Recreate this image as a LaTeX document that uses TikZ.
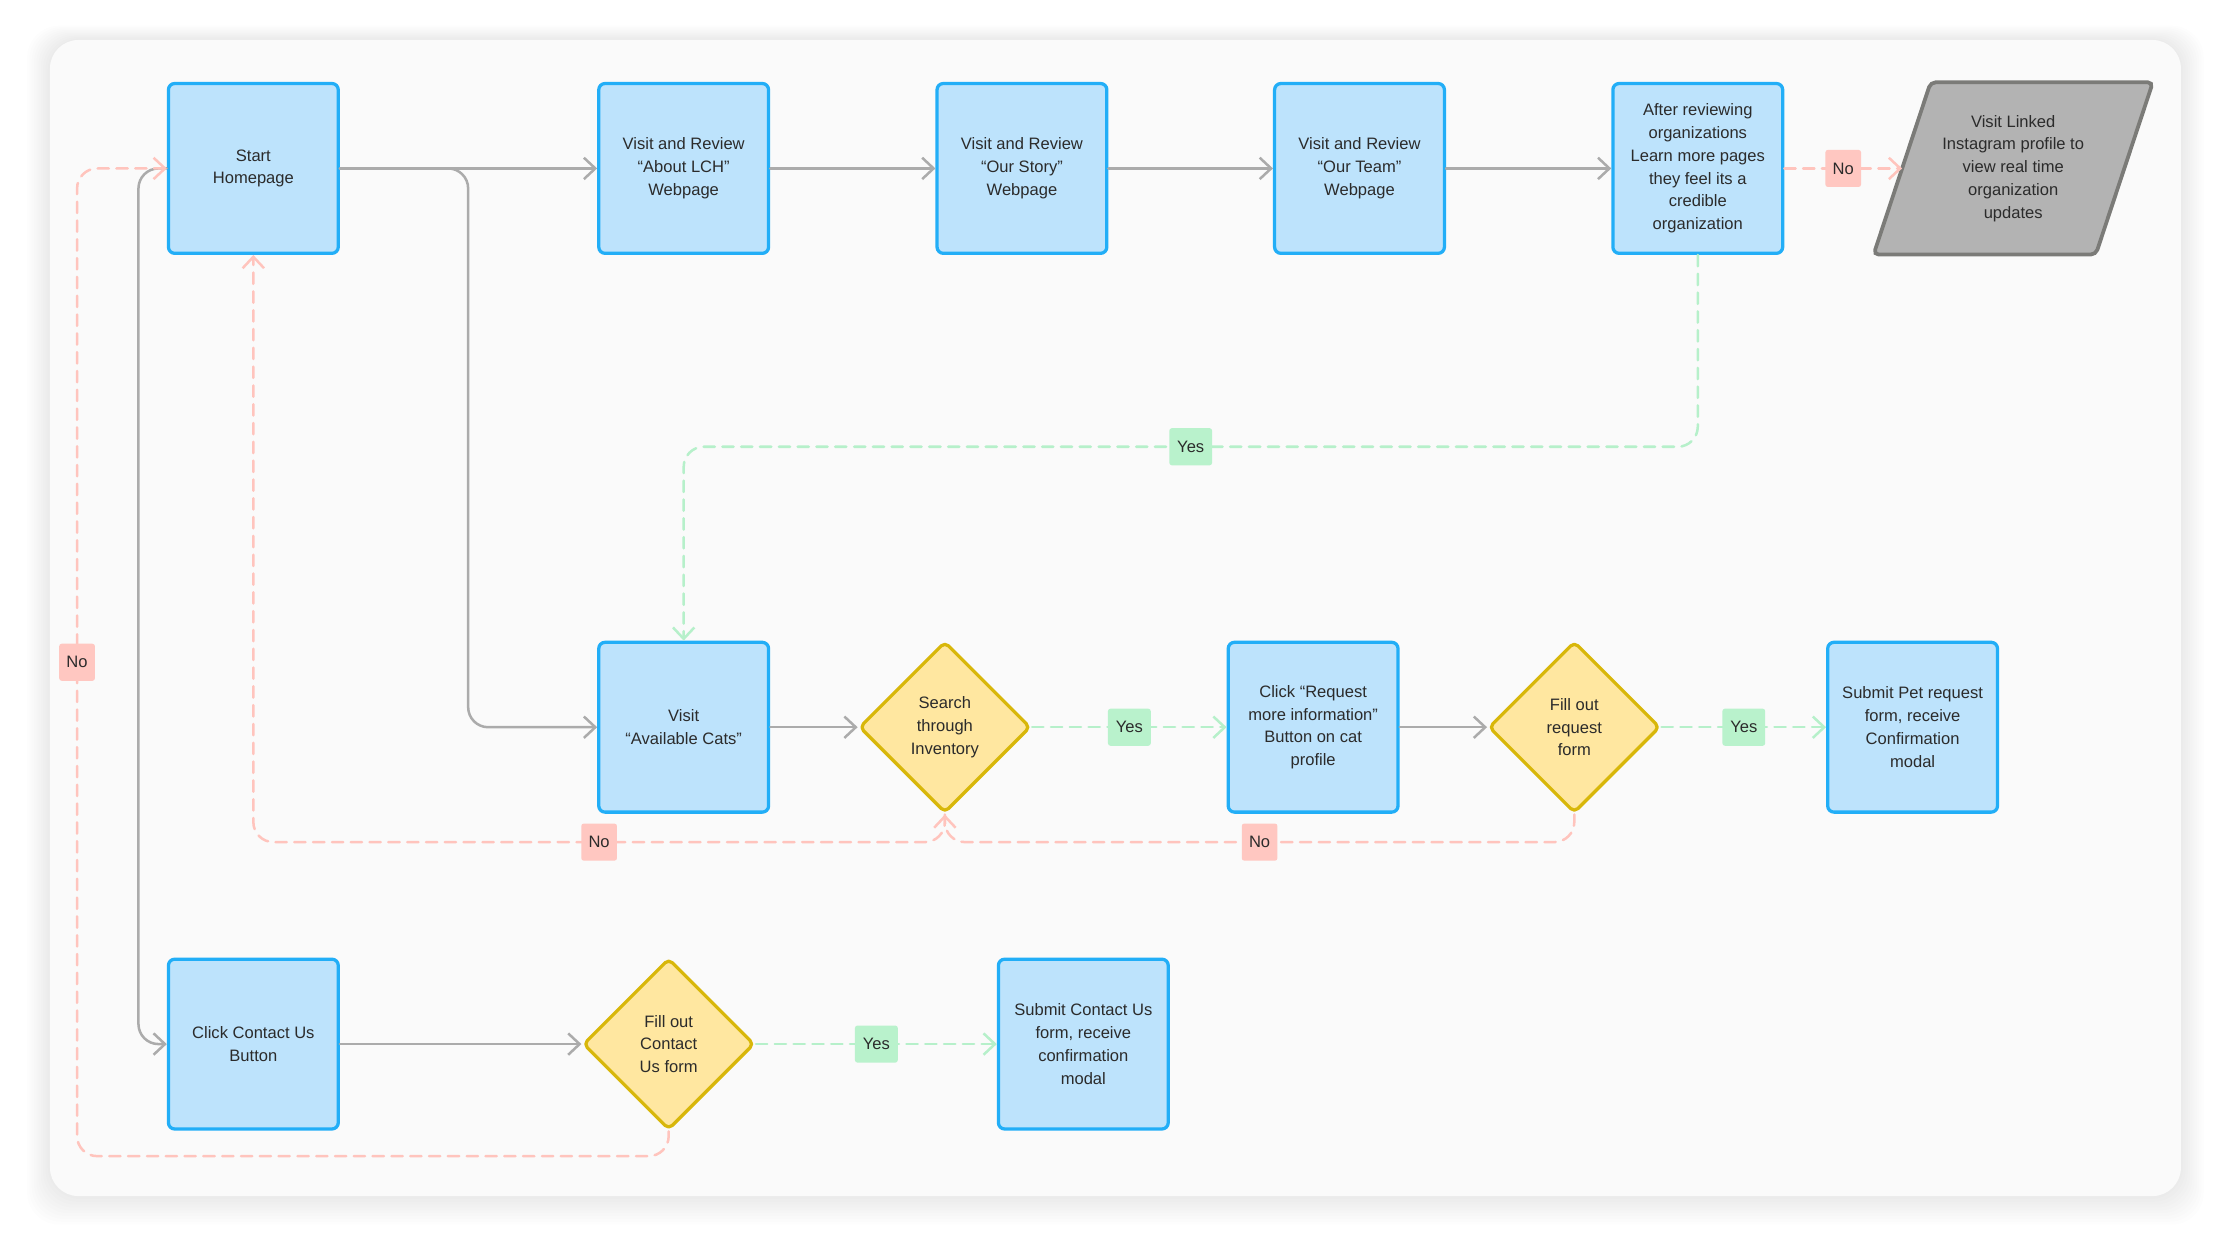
\documentclass[tikz,border=0pt]{standalone}
\usepackage{fontspec}
\setmainfont{Liberation Sans}
\usetikzlibrary{arrows.meta,shapes.geometric,backgrounds}
\definecolor{boxfill}{HTML}{BDE3FC}
\definecolor{boxline}{HTML}{22AEF7}
\definecolor{decfill}{HTML}{FFE7A0}
\definecolor{decline}{HTML}{D8B70A}
\definecolor{nofill}{HTML}{FFC7C1}
\definecolor{noink}{HTML}{FFC4BD}
\definecolor{yesfill}{HTML}{B9F2CC}
\definecolor{yesink}{HTML}{B6F0CA}
\definecolor{flow}{HTML}{ABABAB}
\definecolor{ink}{HTML}{2B2B2B}
\definecolor{card}{HTML}{FAFAFA}
\definecolor{instafill}{HTML}{B3B3B3}
\definecolor{instaline}{HTML}{7B7B78}
\begin{document}
\begin{tikzpicture}[x=0.02cm, y=-0.02cm, font=\fontsize{6.6}{9.1}\selectfont, line join=round, line cap=round,
  >={Straight Barb[length=1.6mm,width=3mm]},
  box/.style={draw=boxline, fill=boxfill, line width=1.3pt, rounded corners=2.5pt, minimum width=2.38cm, minimum height=2.38cm, align=center, text=ink, inner sep=2pt},
  decision/.style={diamond, aspect=1, draw=decline, fill=decfill, line width=1.3pt, rounded corners=2pt, minimum width=2.4cm, minimum height=2.4cm, align=center, text=ink, inner sep=0pt},
  flowline/.style={->, draw=flow, line width=1pt},
  noline/.style={->, draw=noink, line width=1pt, dash pattern=on 4.5pt off 3pt},
  yesline/.style={->, draw=yesink, line width=1pt, dash pattern=on 4.5pt off 3pt},
  nolab/.style={fill=nofill, text=ink, rounded corners=1pt, minimum height=0.52cm, minimum width=0.5cm, inner xsep=2pt},
  yeslab/.style={nolab, fill=yesfill, minimum width=0.6cm}]
\useasboundingbox (0,0) rectangle (1568,879);
\begin{scope}[on background layer]
  \fill[white] (0,0) rectangle (1568,879);
  \foreach \d in {1,...,10}
    \fill[black, opacity=0.008, rounded corners=0.45cm] (35-1.6*\d,28-1.0*\d) rectangle (1528+1.6*\d,838+2*\d);
  \fill[card, rounded corners=0.4cm] (35,28) rectangle (1528,838);
\end{scope}

\node[box] (start) at (177.5,118) {Start\\Homepage};
\node[box] (about) at (479,118) {Visit and Review\\“About LCH”\\Webpage};
\node[box] (story) at (716,118) {Visit and Review\\“Our Story”\\Webpage};
\node[box] (team) at (952.5,118) {Visit and Review\\“Our Team”\\Webpage};
\node[box] (after) at (1189.5,118) {After reviewing\\organizations\\Learn more pages\\they feel its a\\credible\\organization};
\node[align=center, text=ink, minimum width=3.1cm, minimum height=2.4cm] (insta) at (1410.5,118) {Visit Linked\\Instagram profile to\\view real time\\organization\\updates};
\node[box] (cats) at (479,509.5) {Visit\\“Available Cats”};
\node[decision] (search) at (662,509.5) {Search\\through\\Inventory};
\node[box] (request) at (920,509.5) {Click “Request\\more information”\\Button on cat\\profile};
\node[decision] (fillreq) at (1103,509.5) {Fill out\\request\\form};
\node[box] (submitpet) at (1340,509.5) {Submit Pet request\\form, receive\\Confirmation\\modal};
\node[box] (contact) at (177.5,731.5) {Click Contact Us\\Button};
\node[decision] (fillcontact) at (468.5,731.5) {Fill out\\Contact\\Us form};
\node[box] (submitcontact) at (759,731.5) {Submit Contact Us\\form, receive\\confirmation\\modal};

\begin{scope}[on background layer]
  \draw[draw=instaline, fill=instafill, line width=1.5pt, rounded corners=2pt] ([xshift=0.4cm]insta.north west) -- ([xshift=0.4cm]insta.north east) -- ([xshift=-0.4cm]insta.south east) -- ([xshift=-0.4cm]insta.south west) -- cycle;
\end{scope}

\coordinate (trunk) at (328,509.5);
\coordinate (spine) at (97,731.5);
\coordinate (nofoot) at (54,810);
\coordinate (lowrow) at (0,590);
\coordinate (yesrow) at (0,313);

\draw[flowline] (start) -- (about);
\draw[flowline] (about) -- (story);
\draw[flowline] (story) -- (team);
\draw[flowline] (team) -- (after);
\draw[flowline, rounded corners=8pt] (start.east) -| (trunk) -- (cats.west);
\draw[flowline, rounded corners=8pt] (start.west) -| (spine) -- (contact.west);
\draw[flowline] (cats) -- (search);
\draw[flowline] (request) -- (fillreq);
\draw[flowline] (contact) -- (fillcontact);

\draw[noline] (after) -- node[nolab] (no0) {No} (insta);
\draw[yesline, rounded corners=8pt] (after.south) -- (after.south |- yesrow) -- node[yeslab] (yes0) {Yes} (cats.north |- yesrow) -- (cats.north);
\draw[yesline] (search) -- node[yeslab] (yes1) {Yes} (request);
\draw[yesline] (fillreq) -- node[yeslab] (yes2) {Yes} (submitpet);
\draw[yesline] (fillcontact) -- node[yeslab] (yes3) {Yes} (submitcontact);

\draw[noline, rounded corners=8pt] (search.south) -- (search.south |- lowrow) -- node[nolab] (no2) {No} (start.south |- lowrow) -- (start.south);
\draw[noline, rounded corners=8pt] (fillreq.south) -- (fillreq.south |- lowrow) -- node[nolab] (no3) {No} (search.south |- lowrow) -- (search.south);
\draw[noline, rounded corners=8pt] (fillcontact.south) |- (nofoot) -- node[nolab] (no1) {No} (nofoot |- start.west) -- (start.west);
\end{tikzpicture}
\end{document}
